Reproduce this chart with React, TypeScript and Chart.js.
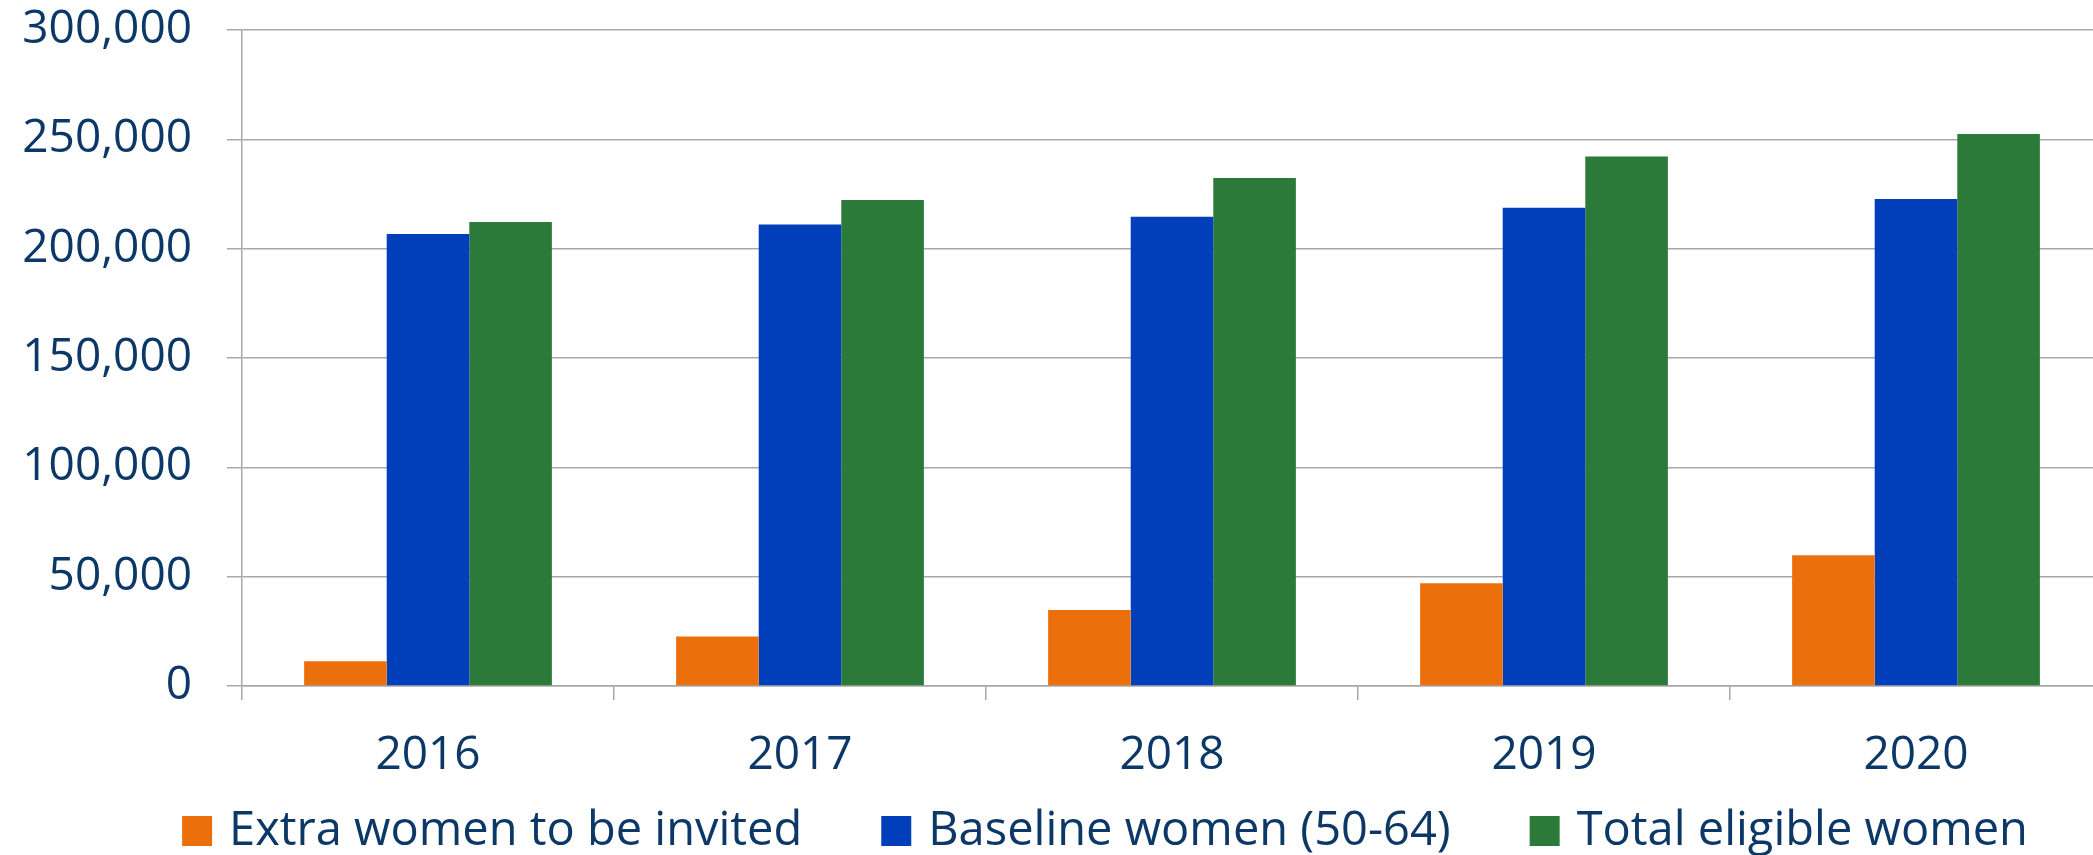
import React, { useEffect, useRef } from "react";
import { Chart, registerables } from "chart.js";

Chart.register(...registerables);

const categories = ["2016", "2017", "2018", "2019", "2020"];
const extraWomen = [11300, 22600, 34800, 47000, 59800];
const baselineWomen = [206700, 211000, 214600, 218700, 222700];
const totalEligibleWomen = [212200, 222200, 232300, 242100, 252400];
const seriesNames = ["Extra women to be invited", "Baseline women (50-64)", "Total eligible women"];
const seriesColors = ["#EB700C", "#003EBA", "#2C7A39"];
const yMin = 0;
const yMax = 300000;
const yStep = 50000;

const TEXT = "#0B3867";
const GRID = "#A8A8A8";
const FONT = '"Open Sans", "Noto Sans", sans-serif';

const legendPlugin = {
  id: "customLegend",
  afterDraw(chart: any) {
    const ctx = chart.ctx as CanvasRenderingContext2D;
    ctx.save();
    ctx.font = `47px ${FONT}`;
    const box = 30;
    const gapBoxText = 17;
    const gapItems = 79;
    const items = chart.data.datasets.map((ds: any) => ({
      label: ds.label as string,
      color: ds.backgroundColor as string,
      w: ctx.measureText(ds.label).width,
    }));
    const total =
      items.reduce((s: number, it: any) => s + box + gapBoxText + it.w, 0) +
      gapItems * (items.length - 1);
    let x = 1105 - total / 2;
    const baseline = 845;
    ctx.textBaseline = "alphabetic";
    ctx.textAlign = "left";
    items.forEach((it: any) => {
      ctx.fillStyle = it.color;
      ctx.fillRect(x, 816, box, box);
      x += box + gapBoxText;
      ctx.fillStyle = TEXT;
      ctx.fillText(it.label, x, baseline);
      x += it.w + gapItems;
    });
    ctx.restore();
  },
};

export default function App() {
  const ref = useRef<HTMLCanvasElement | null>(null);

  useEffect(() => {
    document.body.style.margin = "0";
    const canvas = ref.current;
    if (!canvas) return;
    const values = [extraWomen, baselineWomen, totalEligibleWomen];
    const chart = new Chart(canvas, {
      type: "bar",
      data: {
        labels: categories,
        datasets: seriesNames.map((name, i) => ({
          label: name,
          data: values[i],
          backgroundColor: seriesColors[i],
          borderWidth: 0,
          categoryPercentage: 0.666,
          barPercentage: 1,
        })),
      },
      options: {
        animation: false,
        responsive: false,
        devicePixelRatio: 1,
        layout: { autoPadding: false, padding: { left: 20, top: 30, right: 0, bottom: 69 } },
        plugins: {
          legend: { display: false },
          tooltip: { enabled: false },
          title: { display: false },
        },
        scales: {
          x: {
            offset: true,
            grid: {
              display: true,
              drawOnChartArea: false,
              drawTicks: true,
              tickLength: 14,
              color: GRID,
              lineWidth: 1.5,
              offset: true,
            },
            border: { display: true, color: GRID, width: 1.5 },
            ticks: {
              color: TEXT,
              font: { family: FONT, size: 46 },
              padding: 28,
              maxRotation: 0,
            },
            afterFit: (scale: any) => {
              scale.height = 100;
            },
          },
          y: {
            min: yMin,
            max: yMax,
            grid: {
              color: GRID,
              lineWidth: 1.5,
              tickLength: 15,
              drawTicks: true,
            },
            border: { display: true, color: GRID, width: 1.5 },
            ticks: {
              stepSize: yStep,
              color: TEXT,
              font: { family: FONT, size: 46 },
              padding: 35,
              callback: (v: any) => Number(v).toLocaleString("en-US"),
            },
            afterFit: (scale: any) => {
              scale.width = 222;
              scale.paddingTop = 0;
              scale.paddingBottom = 0;
            },
          },
        },
      },
      plugins: [legendPlugin],
    });
    return () => chart.destroy();
  }, []);

  return (
    <div style={{ width: 2093, height: 855, overflow: "hidden", background: "#fff" }}>
      <canvas ref={ref} width={2102} height={855} style={{ display: "block", width: 2102, height: 855 }} />
    </div>
  );
}
